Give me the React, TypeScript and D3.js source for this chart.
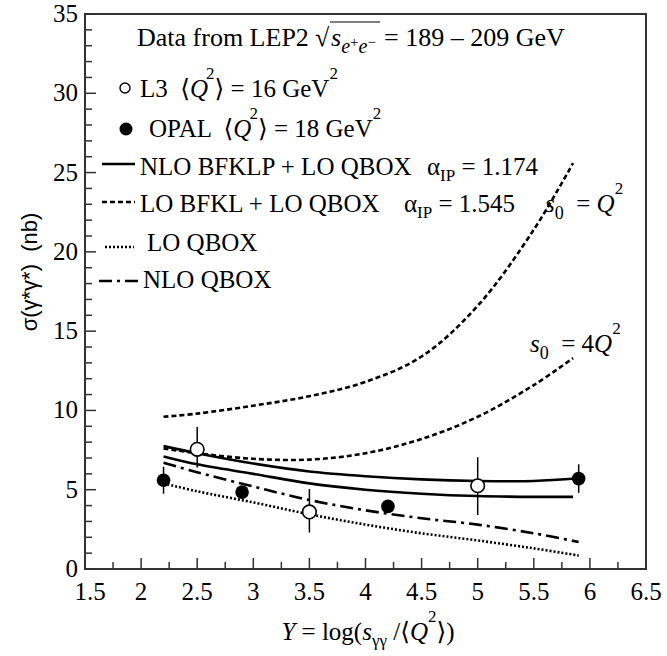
import React from 'react';
import * as d3 from 'd3';

// data
const CURVE_Y = [2.2, 2.5, 3.0, 3.5, 4.0, 4.5, 5.0, 5.5, 5.9];
const CURVE_Y_SHORT = [2.2, 2.5, 3.0, 3.5, 4.0, 4.5, 5.0, 5.5, 5.85];
const NLO_BFKLP_UP = [7.75, 7.3, 6.65, 6.15, 5.85, 5.65, 5.55, 5.55, 5.72];
const NLO_BFKLP_DN = [7.1, 6.6, 6.0, 5.4, 5.0, 4.75, 4.6, 4.55, 4.55];
const LO_BFKL_Q2 = [9.6, 9.8, 10.3, 10.9, 11.8, 13.4, 16.6, 21.4, 25.6];
const LO_BFKL_4Q2 = [7.6, 7.3, 6.95, 6.9, 7.3, 8.2, 9.6, 11.6, 13.3];
const LO_QBOX = [5.4, 4.9, 4.2, 3.45, 2.8, 2.25, 1.8, 1.3, 0.85];
const NLO_QBOX = [6.7, 6.1, 5.2, 4.35, 3.7, 3.2, 2.8, 2.25, 1.7];

const L3_Y = [2.5, 3.5, 5.0];
const L3_SIGMA = [7.55, 3.6, 5.25];
const L3_LO = [6.4, 2.3, 3.4];
const L3_HI = [8.95, 5.05, 7.05];

const OPAL_Y = [2.2, 2.9, 4.2, 5.9];
const OPAL_SIGMA = [5.6, 4.85, 3.95, 5.7];
const OPAL_LO = [4.75, 4.6, 3.7, 4.8];
const OPAL_HI = [6.45, 5.1, 4.2, 6.6];

const X_TICKS = [1.5, 2, 2.5, 3, 3.5, 4, 4.5, 5, 5.5, 6, 6.5];
const Y_TICKS = [0, 5, 10, 15, 20, 25, 30, 35];

const serif = { fontFamily: "'Liberation Serif', 'Times New Roman', 'DejaVu Serif', serif" };
const sans = { fontFamily: "'Liberation Sans', Arial, sans-serif" };

export default function App() {
  const x = d3.scaleLinear().domain([1.5, 6.5]).range([85, 646]);
  const y = d3.scaleLinear().domain([0, 35]).range([569, 14]);
  const [x0, x1] = x.range();
  const [y0, y1] = y.range();

  const line = (xs: number[], vs: number[]) =>
    d3.line<number>()
      .x((d, i) => x(xs[i]))
      .y(d => y(d))
      .curve(d3.curveCatmullRom)(vs) || '';

  const curves = [
    { d: line(CURVE_Y, NLO_BFKLP_UP), dash: undefined },
    { d: line(CURVE_Y_SHORT, NLO_BFKLP_DN), dash: undefined },
    { d: line(CURVE_Y_SHORT, LO_BFKL_Q2), dash: '5,3' },
    { d: line(CURVE_Y_SHORT, LO_BFKL_4Q2), dash: '5,3' },
    { d: line(CURVE_Y, LO_QBOX), dash: '2,2' },
    { d: line(CURVE_Y, NLO_QBOX), dash: '13,5,3,5' },
  ];

  const xMinor = d3.range(1.75, 6.5, 0.25).filter(v => Math.abs(v * 2 - Math.round(v * 2)) > 1e-6);
  const yMinor = d3.range(1, 35, 1).filter(v => v % 5 !== 0);
  const frame = '#333';

  return (
    <svg width={667} height={656} style={{ display: 'block', position: 'absolute', left: 0, top: 0, background: '#fff' }}>
      {/* curves */}
      {curves.map((c, i) => (
        <path key={i} d={c.d} fill="none" stroke="#000" strokeWidth={2.6} strokeDasharray={c.dash} />
      ))}

      {/* error bars */}
      {L3_Y.map((v, i) => (
        <line key={'le' + i} x1={x(v)} x2={x(v)} y1={y(L3_LO[i])} y2={y(L3_HI[i])} stroke="#000" strokeWidth={1.5} />
      ))}
      {OPAL_Y.map((v, i) => (
        <line key={'oe' + i} x1={x(v)} x2={x(v)} y1={y(OPAL_LO[i])} y2={y(OPAL_HI[i])} stroke="#000" strokeWidth={1.5} />
      ))}
      {L3_Y.map((v, i) => (
        <circle key={'lp' + i} cx={x(v)} cy={y(L3_SIGMA[i])} r={6.8} fill="#fff" stroke="#000" strokeWidth={1.6} />
      ))}
      {OPAL_Y.map((v, i) => (
        <circle key={'op' + i} cx={x(v)} cy={y(OPAL_SIGMA[i])} r={6.8} fill="#000" />
      ))}

      {/* frame */}
      <rect x={x0} y={y1} width={x1 - x0} height={y0 - y1} fill="none" stroke={frame} strokeWidth={2} />
      {X_TICKS.map(t => (
        <g key={'xt' + t}>
          <line x1={x(t)} x2={x(t)} y1={y0} y2={y0 - 11} stroke={frame} strokeWidth={1.5} />
          <text x={x(t) + (t === 1.5 ? 5 : 0)} y={600} textAnchor="middle" style={serif} fontSize={25}>{t}</text>
        </g>
      ))}
      {xMinor.map(t => (
        <line key={'xm' + t} x1={x(t)} x2={x(t)} y1={y0} y2={y0 - 7} stroke={frame} strokeWidth={1.5} />
      ))}
      {Y_TICKS.map(t => (
        <g key={'yt' + t}>
          <line x1={x0} x2={x0 + 11} y1={y(t)} y2={y(t)} stroke={frame} strokeWidth={1.5} />
          <text x={78} y={y(t) + 8} textAnchor="end" style={serif} fontSize={25}>{t}</text>
        </g>
      ))}
      {yMinor.map(t => (
        <line key={'ym' + t} x1={x0} x2={x0 + 7} y1={y(t)} y2={y(t)} stroke={frame} strokeWidth={1.5} />
      ))}

      {/* axis titles */}
      <text transform="translate(37,272) rotate(-90)" textAnchor="middle" style={sans} fontSize={22} xmlSpace="preserve">
        σ(γ*γ*)  (nb)
      </text>
      <text x={368} y={640} textAnchor="middle" style={serif} fontSize={25} xmlSpace="preserve">
        <tspan fontStyle="italic">Y</tspan> = log(<tspan fontStyle="italic">s</tspan>
        <tspan dy={6} fontSize={17}>γγ</tspan>
        <tspan dy={-6}> /⟨</tspan><tspan fontStyle="italic">Q</tspan>
        <tspan dx={0} dy={-18} fontSize={17}>2</tspan>
        <tspan dy={18}>⟩)</tspan>
      </text>

      {/* title */}
      <g style={serif} fontSize={26}>
        <text x={137} y={46}>Data from LEP2</text>
        <text x={315} y={46}>√</text>
        <line x1={330} x2={380} y1={22} y2={22} stroke="#000" strokeWidth={1.2} />
        <text x={331} y={46}>
          <tspan fontStyle="italic">s</tspan>
          <tspan dy={7} fontSize={20} fontStyle="italic">e</tspan>
          <tspan dy={-6} fontSize={15}>+</tspan>
          <tspan dy={6} fontSize={20} fontStyle="italic">e</tspan>
          <tspan dy={-6} fontSize={15}>−</tspan>
        </text>
        <text x={384} y={46}>= 189 – 209 GeV</text>
      </g>

      {/* legend */}
      <g style={serif} fontSize={25}>
        <circle cx={125} cy={88} r={5} fill="#fff" stroke="#000" strokeWidth={1.4} />
        <text x={140} y={97} xmlSpace="preserve">
          L3  ⟨<tspan fontStyle="italic">Q</tspan>
          <tspan dx={-2} dy={-18} fontSize={17}>2</tspan>
          <tspan dy={18}>⟩ = 16 GeV</tspan>
          <tspan dy={-18} fontSize={17}>2</tspan>
        </text>

        <circle cx={126} cy={129} r={6.5} fill="#000" />
        <text x={149} y={137} xmlSpace="preserve">
          OPAL  ⟨<tspan fontStyle="italic">Q</tspan>
          <tspan dx={-2} dy={-18} fontSize={17}>2</tspan>
          <tspan dy={18}>⟩ = 18 GeV</tspan>
          <tspan dy={-18} fontSize={17}>2</tspan>
        </text>

        <line x1={102} x2={135} y1={164} y2={164} stroke="#000" strokeWidth={2.6} />
        <text x={140} y={175}>NLO BFKLP + LO QBOX</text>
        <text x={427} y={175}>
          α<tspan dy={6} fontSize={17}>IP</tspan><tspan dy={-6}> = 1.174</tspan>
        </text>

        <line x1={102} x2={135} y1={202} y2={202} stroke="#000" strokeWidth={2.6} strokeDasharray="5,3" />
        <text x={140} y={212}>LO BFKL + LO QBOX</text>
        <text x={404} y={212}>
          α<tspan dy={6} fontSize={17}>IP</tspan><tspan dy={-6}> = 1.545</tspan>
        </text>

        <line x1={105} x2={134} y1={247} y2={247} stroke="#000" strokeWidth={2.4} strokeDasharray="2,2" />
        <text x={147} y={251}>LO QBOX</text>

        <line x1={99} x2={142} y1={281} y2={281} stroke="#000" strokeWidth={2.6} strokeDasharray="13,5,3,5" />
        <text x={143} y={288}>NLO QBOX</text>
      </g>

      {/* curve labels */}
      <g style={serif} fontSize={25}>
        <text x={545} y={212} xmlSpace="preserve">
          <tspan fontStyle="italic">s</tspan>
          <tspan dy={7} fontSize={18}>0</tspan>
          <tspan dy={-7}>  = </tspan>
          <tspan fontStyle="italic">Q</tspan>
          <tspan dy={-18} fontSize={17}>2</tspan>
        </text>
        <text x={530} y={352} xmlSpace="preserve">
          <tspan fontStyle="italic">s</tspan>
          <tspan dy={7} fontSize={18}>0</tspan>
          <tspan dy={-7}>  = 4</tspan>
          <tspan fontStyle="italic">Q</tspan>
          <tspan dy={-18} fontSize={17}>2</tspan>
        </text>
      </g>
    </svg>
  );
}
